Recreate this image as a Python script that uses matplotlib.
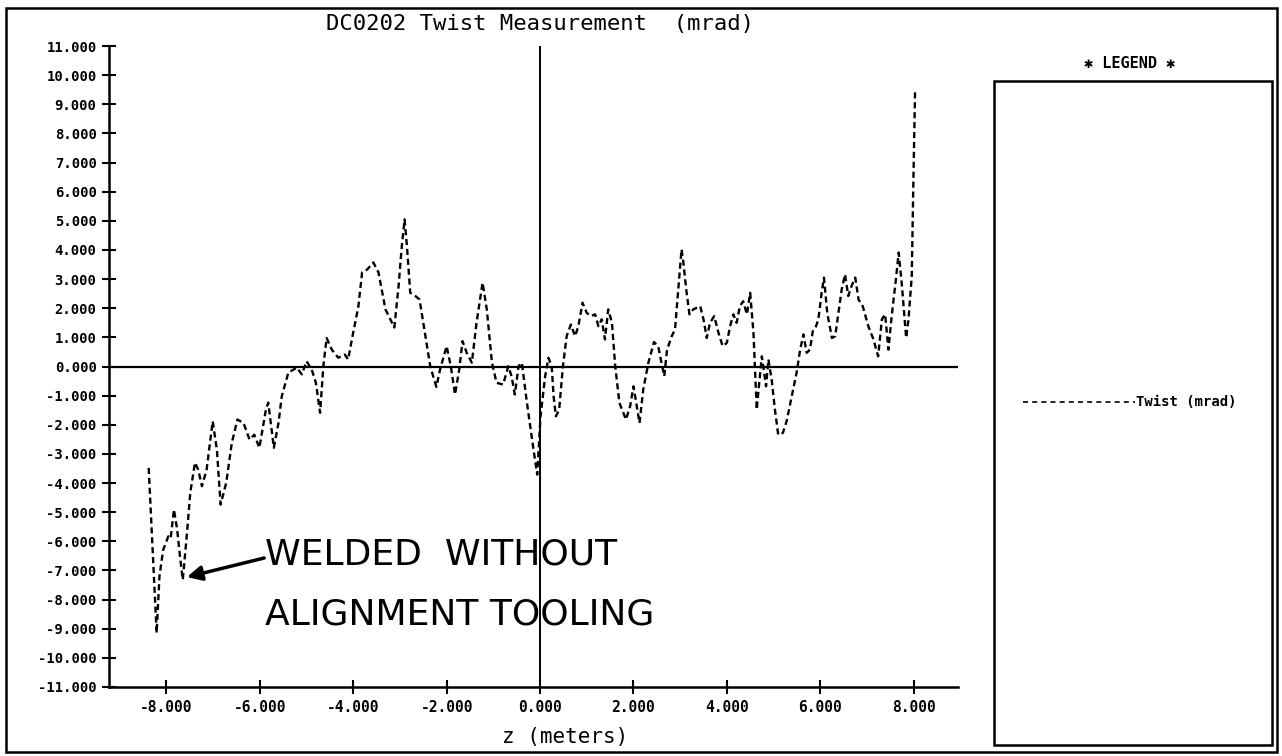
import matplotlib
matplotlib.use("Agg")
import matplotlib.pyplot as plt
from matplotlib.patches import Rectangle
from matplotlib.lines import Line2D

z = [-8.38, -8.28, -8.21, -8.15, -8.07, -7.96, -7.91, -7.84, -7.77, -7.71,
     -7.65, -7.56, -7.49, -7.39, -7.32, -7.24, -7.14, -7.01, -6.92, -6.84,
     -6.72, -6.60, -6.48, -6.35, -6.22, -6.12, -6.01, -5.87, -5.82, -5.75,
     -5.70, -5.60, -5.53, -5.39, -5.21, -5.10, -5.00, -4.89, -4.80, -4.71,
     -4.64, -4.57, -4.46, -4.32, -4.18, -4.11, -4.00, -3.89, -3.81, -3.70,
     -3.57, -3.46, -3.31, -3.20, -3.12, -3.03, -2.96, -2.90, -2.85, -2.78,
     -2.67, -2.58, -2.50, -2.35, -2.22, -2.14, -2.00, -1.91, -1.82, -1.73,
     -1.66, -1.57, -1.46, -1.36, -1.23, -1.14, -1.03, -0.93, -0.79, -0.68,
     -0.61, -0.54, -0.46, -0.39, -0.28, -0.14, -0.06, 0.01, 0.11, 0.18,
     0.25, 0.29, 0.34, 0.41, 0.49, 0.57, 0.66, 0.75, 0.82, 0.91,
     1.00, 1.09, 1.18, 1.25, 1.32, 1.39, 1.46, 1.54, 1.61, 1.70,
     1.84, 1.93, 2.00, 2.06, 2.13, 2.21, 2.32, 2.44, 2.53, 2.60,
     2.66, 2.72, 2.82, 2.89, 2.96, 3.03, 3.07, 3.13, 3.20, 3.28,
     3.43, 3.50, 3.57, 3.64, 3.73, 3.82, 3.91, 4.00, 4.07, 4.14,
     4.21, 4.28, 4.35, 4.43, 4.50, 4.57, 4.64, 4.70, 4.75, 4.80,
     4.84, 4.89, 4.96, 5.03, 5.10, 5.20, 5.28, 5.39, 5.50, 5.57,
     5.64, 5.71, 5.78, 5.84, 5.91, 5.96, 6.03, 6.08, 6.15, 6.25,
     6.32, 6.39, 6.46, 6.53, 6.60, 6.67, 6.75, 6.82, 6.91, 7.03,
     7.14, 7.24, 7.32, 7.39, 7.46, 7.53, 7.62, 7.68, 7.75, 7.84,
     7.89, 7.96, 7.99, 8.03]
twist = [-3.48, -6.86, -9.15, -7.20, -6.29, -5.83, -5.90, -4.91, -5.60, -6.52,
         -7.32, -5.72, -4.34, -3.30, -3.54, -4.11, -3.54, -1.88, -2.85, -4.74,
         -3.99, -2.62, -1.82, -1.94, -2.51, -2.34, -2.79, -1.48, -1.24, -2.16,
         -2.79, -1.93, -1.02, -0.21, -0.04, -0.27, 0.18, -0.10, -0.56, -1.59,
         0.01, 0.98, 0.58, 0.30, 0.41, 0.24, 1.17, 2.06, 3.23, 3.33,
         3.57, 3.23, 1.96, 1.60, 1.34, 2.75, 4.13, 5.05, 4.13, 2.53,
         2.42, 2.30, 1.50, 0.00, -0.70, -0.10, 0.70, 0.00, -0.96, -0.10,
         0.87, 0.47, 0.13, 1.50, 2.88, 1.96, 0.13, -0.56, -0.62, 0.01,
         -0.33, -0.96, 0.01, 0.13, -1.25, -2.85, -3.71, -1.71, -0.33, 0.30,
         0.01, -1.02, -1.71, -1.48, 0.01, 1.04, 1.44, 1.04, 1.38, 2.19,
         1.84, 1.73, 1.79, 1.38, 1.62, 0.93, 1.96, 1.50, 0.01, -1.25,
         -1.82, -1.36, -0.68, -1.25, -1.94, -0.79, 0.13, 0.84, 0.70, 0.13,
         -0.33, 0.58, 1.04, 1.27, 2.65, 4.02, 3.56, 2.65, 1.79, 1.96,
         2.07, 1.62, 0.98, 1.50, 1.73, 1.16, 0.70, 0.81, 1.38, 1.79,
         1.50, 2.07, 2.24, 1.79, 2.53, 1.16, -1.48, -0.45, 0.35, -0.22,
         -0.68, 0.24, -0.45, -1.48, -2.34, -2.28, -1.88, -1.02, -0.16, 0.58,
         1.10, 0.47, 0.58, 1.21, 1.38, 1.62, 2.53, 3.05, 1.84, 0.98,
         1.04, 1.84, 2.65, 3.16, 2.42, 2.76, 3.05, 2.30, 2.07, 1.38,
         0.93, 0.35, 1.62, 1.79, 0.58, 1.73, 2.99, 3.91, 2.76, 0.98,
         1.62, 3.10, 5.97, 9.41]

y_ticks = list(range(-11, 12))
x_ticks = [-8, -6, -4, -2, 0, 2, 4, 6, 8]

mono = "DejaVu Sans Mono"

fig = plt.figure(figsize=(12.82, 7.56), dpi=100)
ax = fig.add_axes([109 / 1282, 69 / 756, 849 / 1282, 641 / 756])

ax.plot(z, twist, color="black", lw=1.7, linestyle=(0, (2.6, 1.6)))
ax.axhline(0, color="black", lw=1.6)
ax.axvline(0, color="black", lw=1.4)

ax.set_xlim(-9.23, 8.95)
ax.set_ylim(-11, 11)
for s in ["top", "right"]:
    ax.spines[s].set_visible(False)
for s in ["left", "bottom"]:
    ax.spines[s].set_linewidth(1.8)

ax.set_yticks(y_ticks)
ax.set_yticklabels(["%.3f" % v for v in y_ticks], fontfamily=mono,
                   fontweight="bold", fontsize=10)
ax.set_xticks(x_ticks)
ax.set_xticklabels(["%.3f" % v for v in x_ticks], fontfamily=mono,
                   fontweight="bold", fontsize=10.5)
ax.tick_params(axis="both", direction="inout", length=10, width=1.5, pad=4)

# title and axis label
fig.text(540 / 1282, 1 - 24 / 756, "DC0202 Twist Measurement  (mrad)",
         ha="center", va="center", fontfamily=mono, fontsize=16)
fig.text(565 / 1282, 1 - 737 / 756, "z (meters)", ha="center", va="center",
         fontfamily=mono, fontsize=15)

# handwritten note
ax.text(-5.9, -6.45, "WELDED  WITHOUT", fontsize=26, va="center",
        fontfamily="DejaVu Sans")
ax.text(-5.9, -8.5, "ALIGNMENT TOOLING", fontsize=26, va="center",
        fontfamily="DejaVu Sans")
ax.annotate("", xy=(-7.62, -7.25), xytext=(-5.85, -6.55),
            arrowprops=dict(arrowstyle="-|>", color="black", lw=2.5,
                            mutation_scale=22))

# outer frame and legend box
fig.patches.append(Rectangle((6 / 1282, 4 / 756), 1271 / 1282, 744 / 756,
                             transform=fig.transFigure, fill=False,
                             ec="black", lw=1.8))
fig.patches.append(Rectangle((994 / 1282, 11 / 756), 278 / 1282, 664 / 756,
                             transform=fig.transFigure, fill=False,
                             ec="black", lw=1.8))
fig.text(1130 / 1282, 1 - 63 / 756, "\u2731 LEGEND \u2731", ha="center",
         va="center", fontfamily=mono, fontweight="bold", fontsize=11)
ly = 1 - 402 / 756
fig.lines.append(Line2D([1023 / 1282, 1135 / 1282], [ly, ly],
                        transform=fig.transFigure, color="black", lw=1.2,
                        linestyle=(0, (3, 2.5))))
fig.text(1136 / 1282, ly, "Twist (mrad)", ha="left", va="center",
         fontfamily=mono, fontweight="bold", fontsize=10)

fig.savefig("out.png", dpi=100)
